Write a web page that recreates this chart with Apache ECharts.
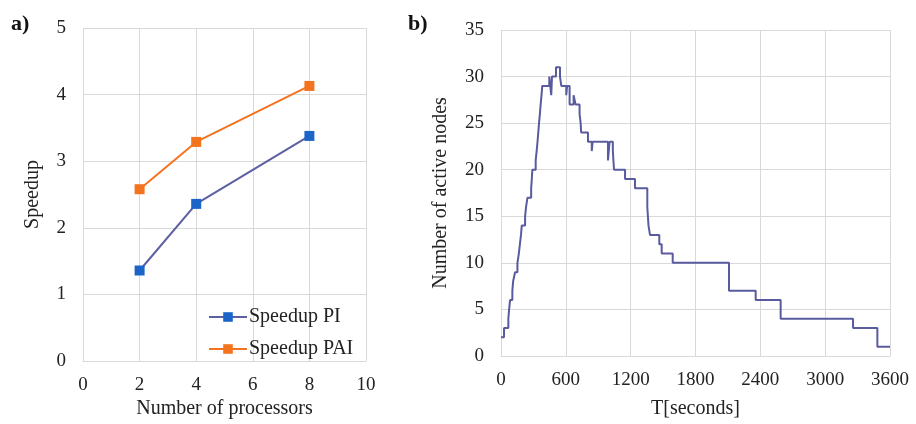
<!DOCTYPE html>
<html>
<head>
<meta charset="utf-8">
<script src="https://cdn.jsdelivr.net/npm/echarts@6/dist/echarts.min.js"></script>
<style>
  html, body { margin: 0; padding: 0; background: #fff; }
  #chart { width: 916px; height: 424px; }
</style>
</head>
<body>
<div id="chart"></div>
<script>
// panel a) speedup
var processors = [2, 4, 8];
var speedupPI = [1.36, 2.36, 3.38];
var speedupPAI = [2.58, 3.29, 4.13];
var seriesNames = ['Speedup PI', 'Speedup PAI'];

// panel b) active nodes over time (step starts at each time)
var times = [0, 28, 68, 75, 84, 105, 112, 130, 152, 165, 175, 185, 192, 223, 232, 245, 279, 285, 290,
    321, 330, 338, 345, 352, 360, 367, 375, 382, 447, 465, 472, 509, 546, 558, 604, 612, 635, 672, 690,
    727, 737, 742, 805, 840, 848, 990, 1005, 1035, 1046, 1148, 1240, 1354, 1365, 1379, 1465, 1487, 1589,
    2110, 2357, 2588, 3258, 3483, 3600];
var nodes = [2, 3, 4, 5, 6, 7, 8, 9, 10, 11, 12, 13, 14, 15, 16, 17, 18, 19, 20,
    21, 22, 23, 24, 25, 26, 27, 28, 29, 30, 28, 30, 31, 30, 29, 28, 29, 27, 28, 27,
    26, 25, 24, 23, 22, 23, 21, 23, 22, 20, 19, 18, 16, 14, 13, 12, 11, 10,
    7, 6, 4, 3, 1, 1];

var font = 'Liberation Serif';
var textColor = '#222';
var gridColor = '#d9d9d9';

function zip(xs, ys) {
    return xs.map(function (x, i) { return [x, ys[i]]; });
}

function valueAxis(gridIndex, min, max, interval, name, nameGap, labelMargin) {
    return {
        type: 'value',
        gridIndex: gridIndex,
        min: min,
        max: max,
        interval: interval,
        name: name,
        nameLocation: 'middle',
        nameGap: nameGap,
        nameTextStyle: { fontFamily: font, fontSize: 20, color: textColor },
        axisLine: { show: true, lineStyle: { color: gridColor } },
        axisTick: { show: false },
        axisLabel: {
            fontFamily: font, fontSize: 19, color: textColor, margin: labelMargin,
            formatter: function (v) { return String(v); }
        },
        splitLine: { show: true, lineStyle: { color: gridColor, width: 1 } }
    };
}

var chart = echarts.init(document.getElementById('chart'));

var option = {
    backgroundColor: '#fff',
    animation: false,
    title: [
        { text: 'a)', left: 6, top: 8, textStyle: { fontFamily: font, fontSize: 22, fontWeight: 'bold', color: '#111' } },
        { text: 'b)', left: 403, top: 8, textStyle: { fontFamily: font, fontSize: 22, fontWeight: 'bold', color: '#111' } }
    ],
    grid: [
        { left: 83, top: 28, width: 283, height: 335 },
        { left: 501, top: 30, width: 389, height: 332 }
    ],
    xAxis: [
        valueAxis(0, 0, 10, 2, 'Number of processors', 34, 14),
        valueAxis(1, 0, 3600, 600, 'T[seconds]', 43, 15)
    ],
    yAxis: [
        valueAxis(0, 0, 5, 1, 'Speedup', 40, 17),
        valueAxis(1, 0, 35, 5, 'Number of active nodes', 50, 17)
    ],
    legend: {
        orient: 'vertical',
        left: 203,
        top: 302,
        itemWidth: 38,
        itemHeight: 12,
        itemGap: 12,
        data: seriesNames,
        textStyle: { fontFamily: font, fontSize: 20, color: textColor, padding: [0, 0, 0, -3] }
    },
    series: [
        {
            name: seriesNames[0],
            type: 'line',
            xAxisIndex: 0,
            yAxisIndex: 0,
            data: zip(processors, speedupPI),
            symbol: 'rect',
            symbolSize: 10,
            lineStyle: { color: '#5d5fa3', width: 2 },
            itemStyle: { color: '#1c64c8' }
        },
        {
            name: seriesNames[1],
            type: 'line',
            xAxisIndex: 0,
            yAxisIndex: 0,
            data: zip(processors, speedupPAI),
            symbol: 'rect',
            symbolSize: 10,
            lineStyle: { color: '#f4731f', width: 2 },
            itemStyle: { color: '#f4731f' }
        },
        {
            name: 'Active nodes',
            type: 'line',
            xAxisIndex: 1,
            yAxisIndex: 1,
            step: 'end',
            showSymbol: false,
            data: zip(times, nodes),
            lineStyle: { color: '#5a5b9f', width: 2 }
        }
    ]
};

chart.setOption(option);
</script>
</body>
</html>
